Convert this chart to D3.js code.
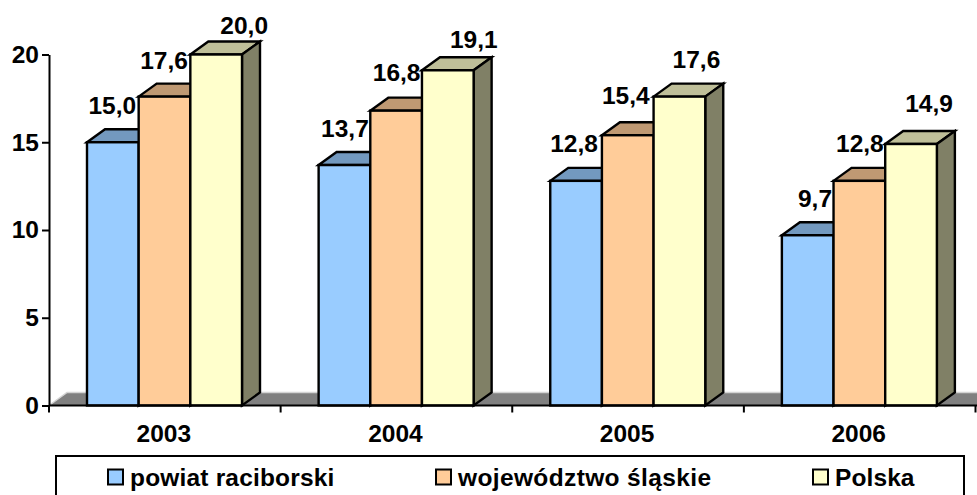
<!DOCTYPE html>
<html>
<head>
<meta charset="utf-8">
<script src="https://cdn.jsdelivr.net/npm/d3@7/dist/d3.min.js"></script>
<style>
html, body { margin: 0; padding: 0; background: #fff; overflow: hidden; }
text { font-family: "Liberation Sans", Arial, sans-serif; font-weight: bold; fill: #000; }
</style>
</head>
<body>
<div id="vis"></div>
<script>
var years = ["2003", "2004", "2005", "2006"];
var seriesNames = ["powiat raciborski", "województwo śląskie", "Polska"];
var powiat = [15.0, 13.7, 12.8, 9.7];
var slaskie = [17.6, 16.8, 15.4, 12.8];
var polska = [20.0, 19.1, 17.6, 14.9];
var yTicks = [0, 5, 10, 15, 20];

var frontColors = ["#99ccff", "#ffcc99", "#ffffcc"];
var topColors = ["#7399bf", "#bf9973", "#bfbf99"];
var sideColor = "#808066";

var width = 977, height = 495;
var depthX = 18, depthY = 13;
var fontSize = "24.5px";
var barStroke = 2.4;
var values = [powiat, slaskie, polska];

// the labels sit differently from group to group in the original
var polskaNudgeX = [30, 28, 19, 20];
var polskaNudgeY = [20.5, 22, 29, 32];
var innerNudgeX = [-1, 0, -2.5, 0];
var slaskieNudgeY = [27.5, 29.5, 31, 28.5];
var legendSpacing = ["0.18px", "0.37px", "0.1px"];

var svg = d3.select("#vis").append("svg")
    .attr("width", width)
    .attr("height", height)
    .style("display", "block");

var x = d3.scaleBand().domain(years).range([49, 975.5]);
var y = d3.scaleLinear().domain([0, 20]).range([405.5, 54.5]);
var xInner = d3.scaleBand().domain([0, 1, 2]).range([38, 193]);

// floor of the 3d box
var y0 = y(0);
svg.append("path")
    .attr("d", "M49," + y0 + "L" + (49 + depthX) + "," + (y0 - depthY) + "L" + width + "," + (y0 - depthY) + "L" + width + "," + y0 + "Z")
    .attr("fill", "#808080");
svg.append("path")
    .attr("d", "M49," + y0 + "L" + (49 + depthX) + "," + (y0 - depthY) + "L" + width + "," + (y0 - depthY))
    .attr("fill", "none")
    .attr("stroke", "#d4d4d4")
    .attr("stroke-width", 1.5);

// bars, back to front inside each group
years.forEach(function (year, i) {
    var g = svg.append("g").attr("transform", "translate(" + x(year) + ",0)");
    values.forEach(function (v, s) {
        var left = xInner(s), right = left + xInner.bandwidth();
        var top = y(v[i]);
        g.append("path")
            .attr("d", "M" + left + "," + top + "L" + (left + depthX) + "," + (top - depthY) + "L" + (right + depthX) + "," + (top - depthY) + "L" + right + "," + top + "Z")
            .attr("fill", topColors[s])
            .attr("stroke", "#000")
            .attr("stroke-width", barStroke);
        g.append("path")
            .attr("d", "M" + right + "," + top + "L" + (right + depthX) + "," + (top - depthY) + "L" + (right + depthX) + "," + (y0 - depthY) + "L" + right + "," + y0 + "Z")
            .attr("fill", sideColor)
            .attr("stroke", "#000")
            .attr("stroke-width", barStroke);
        g.append("rect")
            .attr("x", left)
            .attr("y", top)
            .attr("width", right - left)
            .attr("height", y0 - top)
            .attr("fill", frontColors[s])
            .attr("stroke", "#000")
            .attr("stroke-width", barStroke);
    });
});

// value labels
years.forEach(function (year, i) {
    values.forEach(function (v, s) {
        var left = x(year) + xInner(s);
        var label = svg.append("text")
            .style("font-size", fontSize)
            .text(v[i].toFixed(1).replace(".", ","));
        if (s == 2) {
            label.attr("x", left + polskaNudgeX[i])
                .attr("y", y(v[i]) - polskaNudgeY[i]);
        } else {
            label.attr("x", left + xInner.bandwidth() - 1.5 + innerNudgeX[i])
                .attr("y", y(v[i]) - (s == 1 ? slaskieNudgeY[i] : 28.5))
                .attr("text-anchor", "end");
        }
    });
});

// axes
var yAxis = svg.append("g")
    .attr("transform", "translate(49,0)")
    .call(d3.axisLeft(y).tickValues(yTicks).tickSize(7).tickPadding(3).tickSizeOuter(0));
yAxis.selectAll("text").style("font-size", fontSize).style("font-family", '"Liberation Sans", Arial, sans-serif');
yAxis.selectAll("line").attr("stroke", "#000").attr("stroke-width", 2);
yAxis.select(".domain").attr("stroke", "#000").attr("stroke-width", 2);

var xAxis = svg.append("g").attr("transform", "translate(0," + y0 + ")");
xAxis.append("line")
    .attr("x1", 49).attr("x2", width)
    .attr("stroke", "#000").attr("stroke-width", 2);
xAxis.selectAll(".tick")
    .data(years.concat(["end"]))
    .enter().append("line")
    .attr("x1", function (d, i) { return 49 + i * x.bandwidth(); })
    .attr("x2", function (d, i) { return 49 + i * x.bandwidth(); })
    .attr("y1", 0).attr("y2", 7)
    .attr("stroke", "#000").attr("stroke-width", 2);
xAxis.selectAll(".year")
    .data(years)
    .enter().append("text")
    .attr("x", function (d) { return x(d) + x.bandwidth() / 2 - 1; })
    .attr("y", 36)
    .attr("text-anchor", "middle")
    .style("font-size", fontSize)
    .text(function (d) { return d; });

// legend
svg.append("rect")
    .attr("x", 56).attr("y", 456)
    .attr("width", 908).attr("height", 60)
    .attr("fill", "#fff")
    .attr("stroke", "#000").attr("stroke-width", 2);

var legendX = [108, 436, 813];
seriesNames.forEach(function (name, s) {
    svg.append("rect")
        .attr("x", legendX[s]).attr("y", 469.5)
        .attr("width", 15).attr("height", 15)
        .attr("fill", frontColors[s])
        .attr("stroke", "#000").attr("stroke-width", 2);
    svg.append("text")
        .attr("x", legendX[s] + 22)
        .attr("y", 485.5)
        .style("font-size", fontSize)
        .style("letter-spacing", legendSpacing[s])
        .text(name);
});
</script>
</body>
</html>
